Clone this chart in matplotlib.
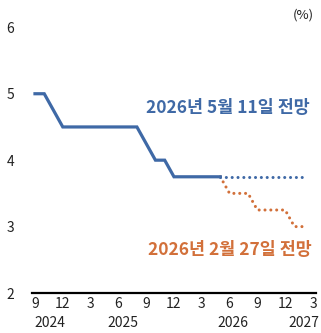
import matplotlib
matplotlib.use("Agg")
import matplotlib.pyplot as plt
from matplotlib.transforms import blended_transform_factory

plt.rcParams['font.family'] = ['Noto Sans CJK KR', 'DejaVu Sans']

# Monthly policy rate path, Sep 2024 .. May 2026 (realised)
actual_rate = [5.0, 5.0, 4.75, 4.5, 4.5, 4.5, 4.5, 4.5, 4.5, 4.5, 4.5, 4.5,
               4.25, 4.0, 4.0, 3.75, 3.75, 3.75, 3.75, 3.75, 3.75]
# Expected path, May 2026 .. Feb 2027
forecast_may11 = [3.75, 3.75, 3.75, 3.75, 3.75, 3.75, 3.75, 3.75, 3.75, 3.75]
forecast_feb27 = [3.75, 3.5, 3.5, 3.5, 3.25, 3.25, 3.25, 3.25, 3.0, 3.0]

month_ticks = ['9', '12', '3', '6', '9', '12', '3', '6', '9', '12', '3']
year_labels = ['2024', '2025', '2026', '2027']
year_pos = [1.6, 9.5, 21.4, 29.0]
y_ticks = [2, 3, 4, 5, 6]

label_may = '2026년 5월 11일 전망'
label_feb = '2026년 2월 27일 전망'

blue = '#3F69A6'
orange = '#D2703A'

fig = plt.figure(figsize=(3.21, 3.33), dpi=100)
ax = fig.add_axes([0.1006, 0.12, 0.883, 0.798])

x_actual = list(range(len(actual_rate)))
start = len(actual_rate) - 1
x_fc = list(range(start, start + len(forecast_may11)))

ax.plot(x_fc, forecast_feb27, color=orange, lw=2.2,
        linestyle=(0, (0.01, 1.9)), dash_capstyle='round')
ax.plot(x_fc, forecast_may11, color=blue, lw=2.2,
        linestyle=(0, (0.01, 1.9)), dash_capstyle='round')
ax.plot(x_actual, actual_rate, color=blue, lw=2.3, solid_joinstyle='miter')

ax.set_xlim(-0.29, 30.3)
ax.set_ylim(2, 6)
ax.set_xticks(range(0, 31, 3))
ax.set_xticklabels(month_ticks)
ax.set_yticks(y_ticks)
ax.set_yticklabels([str(v) for v in y_ticks])

for s in ['left', 'top', 'right']:
    ax.spines[s].set_visible(False)
ax.spines['bottom'].set_linewidth(1.6)
ax.spines['bottom'].set_color('black')

ax.tick_params(axis='both', length=0, labelsize=10, colors='#222222')
ax.tick_params(axis='y', pad=13)
ax.tick_params(axis='x', pad=3)

trans = blended_transform_factory(ax.transData, ax.transAxes)
for yl, xp in zip(year_labels, year_pos):
    ax.text(xp, -0.113, yl, transform=trans, ha='center', va='center',
            fontsize=10, color='#222222')

fig.text(303 / 321, 1 - 15 / 333, '(%)', ha='center', va='center',
         fontsize=9.5, color='#222222')

fig.text(228 / 321, 1 - 108 / 333, label_may, ha='center', va='center',
         fontsize=12.5, fontweight='bold', color=blue)
fig.text(230 / 321, 1 - 250 / 333, label_feb, ha='center', va='center',
         fontsize=12.5, fontweight='bold', color=orange)

fig.savefig('out.png', dpi=100)
